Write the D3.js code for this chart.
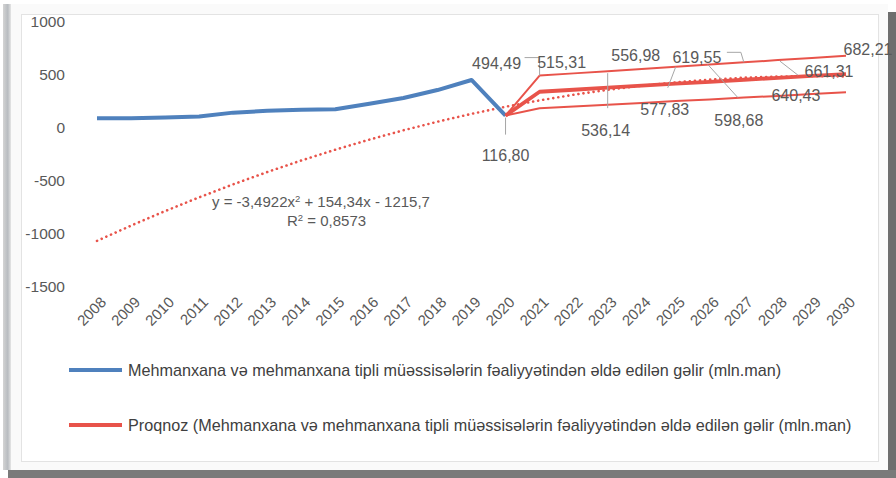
<!DOCTYPE html>
<html>
<head>
<meta charset="utf-8">
<script src="https://cdn.jsdelivr.net/npm/d3@7"></script>
<style>
  body { margin: 0; background: #fff; }
  svg { display: block; font-family: "Liberation Sans", Arial, sans-serif; }
</style>
</head>
<body>
<svg width="896" height="478"></svg>
<script>
// actual income, 2008-2020
const years = d3.range(2008, 2031).map(String);
const actualYears = ["2008","2009","2010","2011","2012","2013","2014","2015","2016","2017","2018","2019","2020"];
const actualValues = [92, 93, 100, 108, 145, 162, 172, 176, 228, 283, 358, 453, 116.8];

// forecast 2020-2030: middle line and confidence bounds
const forecastYears = ["2020","2021","2022","2023","2024","2025","2026","2027","2028","2029","2030"];
const forecastMid = [116.8, 342, 361, 380, 399, 418, 436, 455, 473, 491, 509];
const forecastUpper = [116.8, 494.49, 515.31, 536.14, 556.98, 577.83, 598.68, 619.55, 640.43, 661.31, 682.21];
const forecastLower = [116.8, 186, 203, 220, 237, 254, 270, 287, 303, 320, 337];

// polynomial trend (values of y = -3,4922x² + 154,34x - 1215,7 at x = 1..23)
const trendValues = [-1064.85, -920.99, -784.11, -654.22, -531.31, -415.38, -306.44, -204.48, -109.51, -21.52,
  59.48, 133.50, 200.54, 260.59, 313.66, 359.74, 398.83, 430.95, 456.08, 474.22, 485.38, 489.56, 486.75];

const yTicks = [1000, 500, 0, -500, -1000, -1500];
const labelYears = ["2020","2021","2022","2023","2024","2025","2026","2027","2028","2029","2030"];
const labelTexts = ["116,80","494,49","515,31","536,14","556,98","577,83","598,68","619,55","640,43","661,31","682,21"];
const legendLabels = [
  "Mehmanxana və mehmanxana tipli müəssisələrin fəaliyyətindən əldə edilən gəlir (mln.man)",
  "Proqnoz (Mehmanxana və mehmanxana tipli müəssisələrin fəaliyyətindən əldə edilən gəlir (mln.man)"
];

const blue = "#4f81bd", red = "#e8534a", textGrey = "#595959", leaderGrey = "#a6a6a6";

const svg = d3.select("svg");

// frame (picture-style border with shadow)
const defs = svg.append("defs");
const lg = defs.append("linearGradient").attr("id", "leftBand");
lg.append("stop").attr("offset", "0%").attr("stop-color", "#d4d4d4");
lg.append("stop").attr("offset", "60%").attr("stop-color", "#b8bcc0");
lg.append("stop").attr("offset", "100%").attr("stop-color", "#e6e6e6");
svg.append("rect").attr("x", 3).attr("y", 4).attr("width", 8).attr("height", 466).attr("fill", "url(#leftBand)");
svg.append("rect").attr("x", 888).attr("y", 12).attr("width", 8).attr("height", 466).attr("fill", "#6e6e6e");
svg.append("rect").attr("x", 8).attr("y", 470).attr("width", 888).attr("height", 8).attr("fill", "#7a7a7a");
svg.append("rect").attr("x", 11).attr("y", 4).attr("width", 877).attr("height", 466).attr("fill", "#fafafa");
svg.append("rect").attr("x", 21.5).attr("y", 14.5).attr("width", 857).attr("height", 447)
  .attr("fill", "#fff").attr("stroke", "#e3e3e3").attr("stroke-width", 1);

const x = d3.scalePoint().domain(years).range([97, 846]);
const y = d3.scaleLinear().domain([-1500, 1000]).range([287, 22]);

// y axis labels
const yAxis = svg.append("g")
  .attr("transform", "translate(68,0)")
  .call(d3.axisLeft(y).tickValues(yTicks).tickSize(0).tickPadding(3).tickFormat(d => String(d)));
yAxis.select(".domain").remove();
yAxis.selectAll("text").attr("fill", textGrey).style("font-size", "15.5px").style("font-family", "inherit");

// x axis labels, rotated
const xAxis = svg.append("g")
  .attr("transform", "translate(0,300)")
  .call(d3.axisBottom(x).tickSize(0).tickPadding(0));
xAxis.select(".domain").remove();
xAxis.selectAll("text")
  .attr("fill", textGrey)
  .style("font-size", "15px").style("font-family", "inherit")
  .attr("text-anchor", "end")
  .attr("dx", "0.3em").attr("dy", "0.6em")
  .attr("transform", "rotate(-45)");

const line = d3.line().x(d => x(d[0])).y(d => y(d[1]));

// trend (dotted)
svg.append("path")
  .datum(years.map((yr, i) => [yr, trendValues[i]]))
  .attr("fill", "none").attr("stroke", red).attr("stroke-width", 2.6)
  .attr("stroke-linecap", "round").attr("stroke-dasharray", "0.1 5")
  .attr("d", line);

// actual
svg.append("path")
  .datum(actualYears.map((yr, i) => [yr, actualValues[i]]))
  .attr("fill", "none").attr("stroke", blue).attr("stroke-width", 4)
  .attr("stroke-linejoin", "round").attr("d", line);

// forecast bounds and main line
[[forecastUpper, 2], [forecastLower, 2], [forecastMid, 3.8]].forEach(([vals, w]) => {
  svg.append("path")
    .datum(forecastYears.map((yr, i) => [yr, vals[i]]))
    .attr("fill", "none").attr("stroke", red).attr("stroke-width", w)
    .attr("stroke-linejoin", "round").attr("d", line);
});

// data labels with leader lines (offsets of label centre from the point)
const labelOffsets = [[0, 40], [-43, -12], [-12, -11], [-2, 59], [-6, -14], [-11, 43], [29, 56], [-47, -5], [18, 35], [17, 13], [22, -6]];
const leaders = {
  "2020": [[0, 2], [0, 19]],
  "2021": [[-15, -18], [0, -18], [0, 0]],
  "2023": [[0, 2], [0, 37]],
  "2025": [[0, 0], [-8, 21]],
  "2026": [[-2, 0], [28, 33]],
  "2027": [[-17, -10], [-3, -10], [0, 0]],
  "2028": [[2, 1], [20, 15]]
};
const upperByYear = new Map(forecastYears.map((yr, i) => [yr, forecastUpper[i]]));
labelYears.forEach((yr, i) => {
  const px = x(yr), py = y(upperByYear.get(yr));
  if (leaders[yr]) {
    svg.append("path")
      .attr("d", d3.line()(leaders[yr].map(p => [px + p[0], py + p[1]])))
      .attr("fill", "none").attr("stroke", leaderGrey).attr("stroke-width", 1);
  }
  svg.append("text")
    .attr("x", px + labelOffsets[i][0]).attr("y", py + labelOffsets[i][1])
    .attr("dy", "0.35em").attr("text-anchor", "middle")
    .attr("fill", textGrey).style("font-size", "16px")
    .text(labelTexts[i]);
});

// trendline equation
const eq = svg.append("text").attr("x", 212).attr("y", 207).attr("fill", textGrey).style("font-size", "15px");
eq.append("tspan").text("y = -3,4922x");
eq.append("tspan").attr("dy", -5).style("font-size", "9.5px").text("2");
eq.append("tspan").attr("dy", 5).text(" + 154,34x - 1215,7");
const r2 = svg.append("text").attr("x", 287).attr("y", 226).attr("fill", textGrey).style("font-size", "15px");
r2.append("tspan").text("R");
r2.append("tspan").attr("dy", -5).style("font-size", "9.5px").text("2");
r2.append("tspan").attr("dy", 5).text(" = 0,8573");

// legend
const legend = svg.append("g");
[blue, red].forEach((c, i) => {
  const ly = 370 + i * 55;
  legend.append("line").attr("x1", 69).attr("x2", 122).attr("y1", ly).attr("y2", ly)
    .attr("stroke", c).attr("stroke-width", 4);
  legend.append("text").attr("x", 128).attr("y", ly).attr("dy", "0.35em")
    .attr("fill", "#404040").style("font-size", "16.2px")
    .text(legendLabels[i]);
});
</script>
</body>
</html>
